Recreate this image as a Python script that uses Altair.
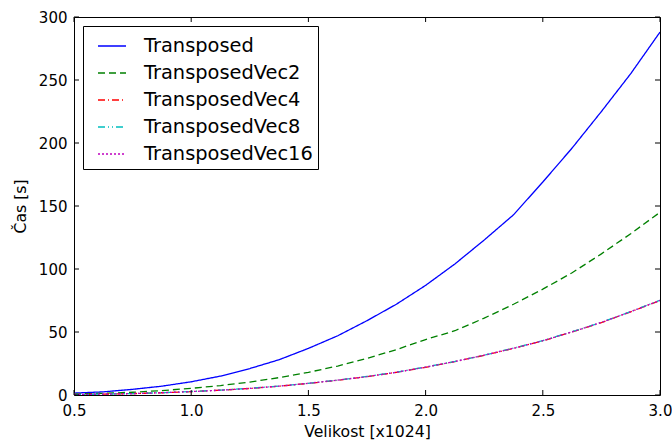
import altair as alt
import pandas as pd

sizes = [0.5, 0.625, 0.75, 0.875, 1.0, 1.125, 1.25, 1.375, 1.5, 1.625, 1.75,
         1.875, 2.0, 2.125, 2.25, 2.375, 2.5, 2.625, 2.75, 2.875, 3.0]

transposed = [1.5, 2.5, 4.5, 7.0, 10.5, 15.0, 21.0, 28.0, 37.0, 47.0, 59.0,
              72.0, 87.0, 104.0, 123.0, 143.0, 169.0, 196.0, 225.0, 255.0, 288.0]
vec2 = [0.8, 1.3, 2.2, 3.5, 5.3, 7.5, 10.3, 13.8, 18.0, 23.0, 29.0,
        36.0, 44.0, 51.0, 61.0, 72.0, 84.0, 97.0, 112.0, 128.0, 145.0]
vec4 = [0.4, 0.7, 1.1, 1.8, 2.7, 3.8, 5.2, 7.0, 9.2, 11.7, 14.6,
        18.0, 22.0, 26.5, 31.5, 37.0, 43.0, 50.0, 57.5, 66.0, 75.0]
vec8 = [0.4, 0.7, 1.1, 1.8, 2.8, 3.9, 5.3, 7.1, 9.3, 11.8, 14.7,
        18.1, 22.2, 26.6, 31.6, 37.2, 43.2, 50.2, 57.7, 66.2, 75.2]
vec16 = [0.4, 0.7, 1.1, 1.8, 2.7, 3.8, 5.2, 7.0, 9.3, 11.8, 14.6,
         18.0, 22.1, 26.6, 31.6, 37.1, 43.1, 50.1, 57.6, 66.1, 75.1]

series_names = ["Transposed", "TransposedVec2", "TransposedVec4",
                "TransposedVec8", "TransposedVec16"]
series_values = [transposed, vec2, vec4, vec8, vec16]
colors = ["#0000ff", "#008000", "#ff0000", "#00bfbf", "#bf00bf"]
dashes = [[1, 0], [7, 4], [7, 3, 1, 3], [7, 3, 1, 3, 1, 3], [2, 2]]

x_ticks = [0.5, 1.0, 1.5, 2.0, 2.5, 3.0]
y_ticks = [0, 50, 100, 150, 200, 250, 300]

rows = []
for name, vals in zip(series_names, series_values):
    for s, v in zip(sizes, vals):
        rows.append({"size": s, "time": v, "series": name})
df = pd.DataFrame(rows)

W, H = 586, 378
FONT = "DejaVu Sans"
TL = 5

xscale = alt.Scale(domain=[0.5, 3.0], nice=False, zero=False)
yscale = alt.Scale(domain=[0, 300], nice=False)

lines = alt.Chart(df).mark_line(strokeWidth=1.3, clip=True).encode(
    x=alt.X("size:Q", scale=xscale,
            axis=alt.Axis(title="Velikost [x1024]", values=x_ticks, format=".1f",
                          ticks=False, labelPadding=8, titlePadding=6,
                          labelFlush=False, labelOverlap=False)),
    y=alt.Y("time:Q", scale=yscale,
            axis=alt.Axis(title="Čas [s]", values=y_ticks, ticks=False,
                          labelPadding=7, titlePadding=10,
                          labelFlush=False, labelOverlap=False)),
    color=alt.Color("series:N", sort=series_names,
                    scale=alt.Scale(domain=series_names, range=colors),
                    legend=alt.Legend(title=None)),
    strokeDash=alt.StrokeDash("series:N", sort=series_names,
                              scale=alt.Scale(domain=series_names, range=dashes),
                              legend=alt.Legend(title=None)),
)

xt = pd.DataFrame({"v": x_ticks})
yt = pd.DataFrame({"v": y_ticks})

xb = alt.Chart(xt).mark_rule(color="black", strokeWidth=1).encode(
    x=alt.X("v:Q", scale=xscale), y=alt.value(H), y2=alt.value(H - TL))
xtop = alt.Chart(xt).mark_rule(color="black", strokeWidth=1).encode(
    x=alt.X("v:Q", scale=xscale), y=alt.value(0), y2=alt.value(TL))
yl = alt.Chart(yt).mark_rule(color="black", strokeWidth=1).encode(
    y=alt.Y("v:Q", scale=yscale), x=alt.value(0), x2=alt.value(TL))
yr = alt.Chart(yt).mark_rule(color="black", strokeWidth=1).encode(
    y=alt.Y("v:Q", scale=yscale), x=alt.value(W), x2=alt.value(W - TL))

chart = alt.layer(lines, xb, xtop, yl, yr).properties(
    width=W, height=H,
    autosize=alt.AutoSizeParams(type="none"),
    padding={"left": 74, "top": 17, "right": 12, "bottom": 46},
).configure_view(
    stroke="black", strokeWidth=1
).configure_axis(
    labelFont=FONT, titleFont=FONT, labelFontSize=15, titleFontSize=15.7,
    labelColor="black", titleColor="black", titleFontWeight="normal",
    domain=False, grid=False,
).configure_legend(
    orient="top-left", offset=9, padding=5, strokeColor="black",
    fillColor="white", labelFont=FONT, labelFontSize=19.4, labelColor="black",
    symbolType="stroke", symbolSize=784, symbolStrokeWidth=1.3,
    symbolOffset=9, labelOffset=17, rowPadding=2, labelLimit=400,
    cornerRadius=0,
)

chart.save("out.html", embed_options={"renderer": "svg", "actions": False})
